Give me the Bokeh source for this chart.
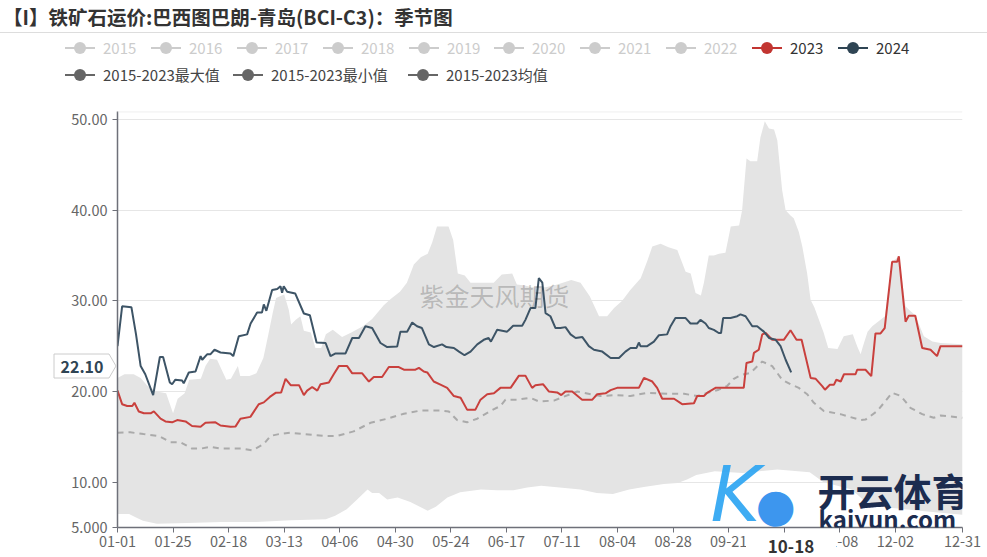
from bokeh.plotting import figure
from bokeh.models import Range1d, FixedTicker, Label, Span, Div
from bokeh.layouts import column
from bokeh.embed import file_html
from bokeh.resources import INLINE

FONT = "Noto Sans CJK SC"

# ---------------- data ----------------
title_text = "【I】铁矿石运价:巴西图巴朗-青岛(BCI-C3)：季节图"

tick_days = [0, 24, 48, 72, 96, 120, 144, 168, 192, 216, 240, 264, 288, 312, 336, 365]
tick_labels = ["01-01", "01-25", "02-18", "03-13", "04-06", "04-30", "05-24", "06-17",
               "07-11", "08-04", "08-28", "09-21", "10-15", "11-08", "12-02", "12-31"]
y_ticks = [5, 10, 20, 30, 40, 50]
y_tick_labels = ["5.000", "10.00", "20.00", "30.00", "40.00", "50.00"]
grid_ticks = [10, 20, 30, 40, 50]
pointer_y_label = "22.10"
pointer_x_label = "10-18"

legend_row1 = ["2015", "2016", "2017", "2018", "2019", "2020", "2021", "2022", "2023", "2024"]
legend_row1_colors = ["#cccccc"] * 8 + ["#c23531", "#2f4554"]
legend_row1_text = ["#cccccc"] * 8 + ["#333333", "#333333"]
legend_row2 = ["2015-2023最大值", "2015-2023最小值", "2015-2023均值"]
legend_row2_colors = ["#666666", "#666666", "#666666"]

days_2024 = [0, 2, 6, 8, 10, 12, 15.4, 18.3, 19.7, 22.6, 23.6, 25, 27.9, 28.6, 30.8, 33.7, 35.9, 36.6,
             38.7, 40.1, 41.9, 44.5, 48.8, 50, 52.4, 56, 57.5, 60.3, 62.4, 63.2, 64.3, 66.8, 69, 70.4,
             71.1, 71.8, 73.3, 76.8, 80.5, 83.1, 86, 89.9, 92, 94.2, 98.5, 101.4, 104.3, 107.1, 110,
             113.6, 116.5, 120.8, 122.2, 125.1, 127.3, 129.4, 131.5, 134.5, 136.7, 140.2, 142.1, 145.3,
             147.5, 149.9, 152.5, 155.4, 158.2, 160.3, 161.3, 164, 168.3, 170.9, 174.8, 176.2, 178.4,
             180.5, 182, 183.5, 184.9, 187, 189.2, 191.3, 193.5, 195.7, 197.9, 200.8, 203.6, 205.8,
             209.4, 213, 216.6, 219.4, 221.6, 224.2, 225.2, 225.9, 228.8, 231.7, 233.8, 237.4, 238.9,
             241, 245.4, 246.1, 247.5, 250.4, 251.8, 254, 255.4, 257.6, 259.7, 260.7, 261.6, 264.8,
             267.7, 269.1, 271.3, 274.2, 276.3, 279.2, 281.4, 284.3, 286.4, 288.6, 291]
vals_2024 = [25.0, 29.4, 29.3, 26.3, 22.8, 21.9, 19.6, 23.8, 23.8, 21.0, 20.8, 21.3, 21.2, 20.9, 22.1, 22.2,
             23.9, 23.5, 24.1, 24.1, 24.6, 24.3, 24.2, 23.9, 26.1, 26.3, 27.5, 28.7, 28.7, 29.6, 28.9,
             31.2, 31.3, 31.6, 30.9, 31.6, 31.0, 30.8, 28.6, 28.4, 25.4, 25.35, 23.9, 24.2, 24.2, 25.9,
             25.9, 27.2, 27.0, 25.35, 24.9, 24.95, 26.6, 26.6, 27.6, 27.2, 27.0, 25.2, 24.9, 25.2, 24.9,
             24.8, 24.4, 24.0, 24.4, 25.2, 25.7, 25.9, 25.5, 26.8, 26.6, 27.25, 27.25, 27.9, 29.2, 29.2,
             32.5, 32.0, 28.65, 28.3, 27.0, 27.0, 27.1, 26.3, 25.9, 26.0, 25.0, 24.6, 24.4, 23.7, 23.7,
             24.4, 24.8, 24.8, 25.4, 25.0, 25.0, 25.5, 26.2, 26.3, 27.2, 28.1, 28.1, 27.9, 27.5, 27.5,
             27.9, 27.5, 27.0, 26.8, 26.45, 26.45, 28.1, 28.1, 28.3, 28.5, 28.3, 27.2, 27.2, 26.6, 25.9,
             25.7, 25.0, 23.5, 22.1]

days_2023 = [0, 2, 4.2, 6.4, 7.3, 9.2, 11.4, 14.3, 15.7, 18.6, 20.7, 23.6, 25.8, 29.4, 32.2, 35.9, 38,
             42.3, 44.5, 48.8, 51, 53.1, 57.4, 61, 63.2, 65.8, 68.3, 70.7, 72.6, 74.8, 78.4, 80.5, 81.9,
             84.1, 86.3, 87.7, 91.3, 93.4, 95.6, 99.2, 101.4, 105.7, 108.6, 110.7, 114.3, 117.2, 121.5,
             123.7, 128.7, 130.2, 132.3, 133.8, 136.6, 139.5, 142.4, 145.3, 148.2, 151, 154.6, 156.8,
             159.7, 162.6, 165.4, 169.8, 173.4, 176.2, 179.1, 180.5, 183.8, 186.3, 189.9, 191.7, 193.5,
             196.4, 200.7, 205.1, 207.2, 210.8, 213, 215.8, 219.4, 225.2, 227.4, 231, 233.1, 235.3,
             240.4, 243.9, 249, 250.4, 253.3, 254.7, 258.3, 270.5, 271.7, 274.2, 274.9, 277, 278.5,
             280, 282.8, 287.8, 290.7, 293.3, 295.5, 299.4, 301.6, 304.4, 305.6, 307.7, 309.5, 310.5,
             312.4, 313.8, 318.8, 319.5, 323.1, 325.6, 327.4, 329.6, 331.4, 334.6, 336.8, 337.5, 340.4,
             341.8, 344.6, 347.6, 351.2, 354, 355.5, 365]
vals_2023 = [20.1, 18.6, 18.4, 18.4, 18.75, 17.8, 17.6, 17.6, 17.8, 17.0, 16.7, 16.6, 16.85, 16.7, 16.2,
             16.1, 16.55, 16.6, 16.25, 16.1, 16.15, 17.0, 17.2, 18.6, 18.8, 19.4, 19.85, 19.9, 21.4, 20.7,
             20.7, 19.6, 20.1, 20.5, 20.1, 20.8, 21.0, 21.9, 22.8, 22.8, 22.0, 22.0, 21.1, 21.6, 21.6,
             22.7, 22.7, 22.4, 22.4, 22.6, 22.2, 22.1, 21.1, 20.75, 20.4, 19.5, 19.3, 18.0, 18.0, 19.1,
             19.7, 19.8, 20.4, 20.4, 21.75, 21.75, 20.4, 20.7, 20.8, 20.0, 19.9, 19.6, 20.0, 20.0, 19.1,
             19.1, 19.7, 19.8, 20.15, 20.4, 20.4, 20.4, 21.5, 21.1, 20.4, 19.2, 19.2, 18.6, 18.7, 19.5,
             19.5, 19.85, 20.4, 20.4, 23.15, 23.3, 24.25, 24.6, 26.3, 26.45, 25.7, 25.7, 26.75, 25.7,
             25.7, 21.5, 21.4, 20.6, 20.2, 20.75, 20.75, 21.3, 21.1, 21.9, 21.9, 22.4, 22.4, 21.7, 26.4,
             26.4, 27.0, 34.3, 34.3, 34.9, 27.7, 28.35, 28.35, 24.8, 24.6, 23.9, 25.0, 25.0]

days_mean = [0, 5.5, 11.2, 17.8, 22.9, 27.2, 32.2, 35.9, 40.3, 44.5, 49.7, 54, 58.2, 63.2, 66.1, 69.7,
             74.8, 80.5, 89, 94.9, 102, 109.3, 116.5, 123.7, 130.9, 139.5, 143.1, 146.7, 151, 155.4,
             161.1, 165.4, 167.6, 172.6, 178.4, 182, 188.5, 198.6, 204.4, 208.6, 215.1, 221.6, 228.8,
             233.1, 238.9, 244.7, 250.4, 254.7, 259.7, 263.3, 266.2, 269.1, 273.4, 278.5, 282.8, 287.1,
             290.7, 294.3, 297.9, 300.8, 305.1, 312.3, 321, 323.1, 328.2, 334.6, 338.4, 342.5, 347.6,
             352.6, 355.5, 365]
vals_mean = [15.45, 15.5, 15.3, 15.1, 14.4, 14.4, 13.7, 13.7, 13.9, 13.7, 13.7, 13.7, 13.5, 14.2, 15.1,
             15.3, 15.45, 15.3, 15.1, 15.1, 15.6, 16.55, 17.0, 17.55, 17.9, 17.9, 17.8, 16.85, 16.6, 17.0,
             17.85, 18.4, 19.1, 19.1, 19.3, 18.9, 19.0, 20.0, 19.7, 19.5, 19.6, 19.5, 19.85, 19.8, 19.75,
             19.75, 19.5, 19.85, 20.2, 20.6, 21.4, 21.8, 22.05, 23.3, 22.8, 21.3, 20.8, 20.4, 19.7, 18.75,
             17.85, 17.5, 16.85, 16.9, 17.85, 19.85, 19.5, 18.2, 17.5, 17.1, 17.35, 17.1]

days_max = [0, 3, 7, 10, 13, 17, 21, 24, 26, 29, 31, 36, 38, 40, 43, 45, 47, 49, 52, 53, 57, 60, 63, 65,
            67, 68.5, 72, 74, 75, 77, 79, 80.5, 83.5, 85.5, 88, 90, 93, 97, 101, 106, 110, 115, 118, 122,
            125, 128, 131, 134, 136, 138, 143, 145, 147, 150, 152.5, 157, 162.5, 166, 170.5, 172.5, 176,
            179, 185, 190, 196, 200, 204, 208, 211.5, 214.5, 218, 221.5, 226, 229, 231, 234.6, 238,
            241.8, 245.4, 247.6, 249.7, 252, 253.3, 255.4, 257.6, 259.8, 262.6, 264.9, 268.5, 269.8,
            271.7, 273.4, 276.3, 277.7, 279.6, 281.4, 283.6, 285, 287.1, 288.6, 290.7, 292.1, 294.3,
            295.8, 297.9, 299.4, 301, 305, 307, 311, 313.7, 317.6, 319.5, 321, 322, 324, 326, 329.6,
            331.5, 334.6, 337.5, 340.4, 342, 344.6, 348.3, 352, 355.5, 365]
vals_max = [21.5, 21.9, 21.9, 21.5, 20.6, 20.0, 19.8, 17.6, 19.2, 19.8, 21.3, 21.4, 22.8, 23.6, 23.5, 22.4,
            21.3, 21.4, 22.8, 21.7, 21.7, 22.0, 23.7, 26.1, 28.6, 30.3, 30.7, 29.0, 27.4, 27.9, 28.3, 26.7,
            26.5, 24.8, 24.8, 26.3, 26.8, 26.0, 26.5, 27.2, 28.0, 29.5, 30.2, 31.0, 32.0, 34.0, 34.8, 35.2,
            36.5, 38.2, 38.2, 36.7, 33.0, 32.8, 32.0, 32.0, 32.0, 32.9, 33.0, 31.8, 31.7, 31.5, 31.5, 31.8,
            32.3, 32.0, 30.5, 28.3, 28.3, 29.2, 30.0, 31.2, 32.5, 34.5, 36.0, 36.3, 35.9, 35.6, 33.2, 33.0,
            30.85, 30.6, 32.0, 35.0, 35.0, 35.2, 35.3, 38.2, 38.3, 40.0, 45.7, 45.4, 45.4, 48.0, 49.8,
            49.0, 48.9, 47.7, 42.2, 40.0, 39.4, 39.1, 37.6, 36.0, 33.0, 30.1, 29.3, 26.5, 24.8, 24.7,
            26.1, 26.3, 25.0, 24.1, 25.0, 26.6, 27.2, 27.9, 28.3, 34.3, 34.9, 29.4, 29.0, 28.4, 26.1,
            25.5, 25.35, 25.2]

days_min = [0, 5, 8, 11, 17, 30, 45, 60, 75, 90, 94, 99, 103.5, 108, 110, 113, 116.5, 121, 126.5, 134,
            137.5, 142.5, 148, 157, 164, 171, 177, 183, 191, 200, 207, 214, 221, 228, 236, 242, 246, 250,
            258, 270, 285, 299, 305, 311, 317, 322, 330, 340, 352, 365]
vals_min = [6.5, 6.5, 6.1, 5.75, 5.4, 5.5, 5.6, 5.6, 5.8, 5.9, 6.3, 7.0, 8.1, 9.2, 8.8, 8.8, 8.1, 8.3, 7.8,
            6.85, 7.3, 8.3, 8.9, 9.2, 9.1, 9.1, 9.4, 9.6, 9.4, 9.2, 8.8, 8.7, 9.2, 9.5, 9.8, 9.9, 10.3,
            10.8, 11.2, 11.0, 11.4, 11.1, 10.0, 9.6, 9.2, 8.1, 7.3, 7.0, 6.7, 6.4]

# ---------------- header: title + legend (HTML) ----------------
HEAD_H = 100


def legend_item_html(label, color, text_color, left, center_y):
    icon = ('<svg width="30" height="14" style="display:block">'
            f'<line x1="0" y1="7" x2="30" y2="7" stroke="{color}" stroke-width="2"/>'
            f'<circle cx="15" cy="7" r="6" fill="{color}"/></svg>')
    return (f'<div style="position:absolute;left:{left}px;top:{center_y - 10}px;height:20px;'
            f'display:flex;align-items:center;white-space:nowrap;">{icon}'
            f'<span style="margin-left:8px;font-size:15px;line-height:20px;color:{text_color};">'
            f'{label}</span></div>')


items = []
for i, (lbl, c, tc) in enumerate(zip(legend_row1, legend_row1_colors, legend_row1_text)):
    items.append(legend_item_html(lbl, c, tc, round(65 + i * 85.9), 48))
for lbl, c, x0 in zip(legend_row2, legend_row2_colors, [65, 233, 408]):
    items.append(legend_item_html(lbl, c, "#444444", x0, 75))

# axis-pointer tags (crosshair labels) drawn over the axes
tag_svg = ('<svg width="64" height="26" style="position:absolute;left:0;top:0;">'
           '<path d="M1,1 H56 L63,13 L56,25 H1 Z" fill="white" stroke="#cccccc" stroke-width="1"/></svg>')
pointer_html = (
    '<div style="position:absolute;left:53px;top:353px;width:64px;height:26px;z-index:50;">'
    + tag_svg +
    '<div style="position:absolute;left:0;top:0;width:58px;height:26px;display:flex;'
    'align-items:center;justify-content:center;font-size:16px;font-weight:bold;color:#2f4554;">'
    f'{pointer_y_label}</div></div>'
    '<div style="position:absolute;left:746px;top:535px;width:90px;height:21px;z-index:50;'
    'background:white;display:flex;align-items:center;justify-content:center;font-size:17px;'
    f'font-weight:bold;color:#333333;line-height:21px;">{pointer_x_label}</div>')

header_html = (
    f'<div style="position:relative;width:987px;height:{HEAD_H}px;font-family:\'{FONT}\';'
    'overflow:visible;">'
    f'<div style="position:absolute;left:3px;top:4px;font-size:19.5px;line-height:26px;'
    f'font-weight:bold;color:#333333;white-space:nowrap;">{title_text}</div>'
    '<div style="position:absolute;left:0;top:32px;width:987px;height:1px;background:#dddddd;"></div>'
    + "".join(items) + pointer_html + '</div>')

header = Div(text=header_html, width=987, height=HEAD_H, margin=0,
             styles={"overflow": "visible", "z-index": "50", "position": "relative"})

# ---------------- main chart ----------------
p = figure(width=987, height=557 - HEAD_H, output_backend="svg", toolbar_location=None,
           x_range=Range1d(0, 365), y_range=Range1d(5, 50.88),
           min_border_left=117, min_border_right=25, min_border_top=111 - HEAD_H,
           min_border_bottom=30)
p.outline_line_color = None
p.background_fill_color = "white"
p.border_fill_color = "white"

p.xgrid.visible = False
p.ygrid.ticker = FixedTicker(ticks=grid_ticks)
p.ygrid.grid_line_color = "#e6e6e6"
p.ygrid.grid_line_width = 1

p.yaxis.ticker = FixedTicker(ticks=y_ticks)
p.yaxis.major_label_overrides = {t: l for t, l in zip(y_ticks, y_tick_labels)}
p.xaxis.ticker = FixedTicker(ticks=tick_days)
p.xaxis.major_label_overrides = {t: l for t, l in zip(tick_days, tick_labels)}

for ax in (p.xaxis[0], p.yaxis[0]):
    ax.axis_line_color = "#6e7079"
    ax.axis_line_width = 1.5
    ax.major_tick_line_color = "#6e7079"
    ax.major_tick_out = 5
    ax.major_tick_in = 0
    ax.minor_tick_line_color = None
    ax.major_label_text_color = "#666666"
    ax.major_label_text_font = FONT
    ax.major_label_text_font_size = "14.5px"
p.yaxis.major_label_standoff = 5
p.xaxis.major_label_standoff = 3

p.add_layout(Span(location=50.85, dimension="width", line_color="#e6e6e6", line_width=1))

# band between 2015-2023 min and max
band_x = days_max + days_min[::-1]
band_y = vals_max + vals_min[::-1]
p.patch(band_x, band_y, fill_color="#e4e4e4", line_color=None)

p.line(days_mean, vals_mean, line_color="#aaaaaa", line_width=2, line_dash="6 5")
p.line(days_2023, vals_2023, line_color="#c9403d", line_width=2)
p.line(days_2024, vals_2024, line_color="#3d5466", line_width=2)

# source watermark
p.add_layout(Label(x=494 - 117, y=527 - 294, x_units="screen", y_units="screen",
                   text="紫金天风期货", text_font=FONT, text_font_size="25px",
                   text_color="#000000", text_alpha=0.2, text_align="center",
                   text_baseline="middle"))

# site watermark (bottom right)
p.add_layout(Label(x=735 - 117, y=527 - 494, x_units="screen", y_units="screen",
                   text="K", text_font="DejaVu Sans", text_font_size="76px",
                   text_font_style="italic", text_color="#29a3f2", text_alpha=0.9,
                   text_align="center", text_baseline="middle"))
p.add_layout(Label(x=775 - 117, y=527 - 504, x_units="screen", y_units="screen",
                   text="●", text_font="DejaVu Sans", text_font_size="46px",
                   text_color="#3d96ee", text_align="center", text_baseline="middle"))
p.add_layout(Label(x=817 - 117, y=527 - 489, x_units="screen", y_units="screen",
                   text="开云体育", text_font=FONT, text_font_size="38px",
                   text_font_style="bold", text_color="#1c2c4f", text_align="left",
                   text_baseline="middle"))
p.add_layout(Label(x=818 - 117, y=527 - 518, x_units="screen", y_units="screen",
                   text="kaiyun.com", text_font=FONT, text_font_size="24px",
                   text_font_style="bold", text_color="#1c2c4f", text_align="left",
                   text_baseline="middle"))

layout = column(header, p, spacing=0)
open("out.html", "w").write(file_html(layout, INLINE))
